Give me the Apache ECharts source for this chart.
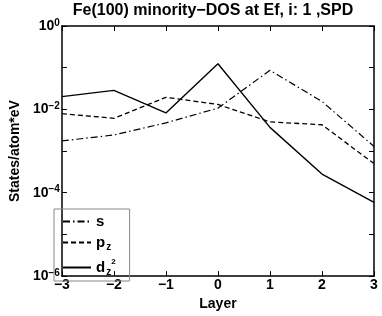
<!DOCTYPE html>
<html><head><meta charset="utf-8">
<script src="https://cdn.jsdelivr.net/npm/echarts@6/dist/echarts.min.js"></script>
<style>html,body{margin:0;padding:0;background:#fff}#c{width:382px;height:316px}</style>
</head><body><div id="c"></div>
<script>
const layers = [-3, -2, -1, 0, 1, 2, 3];
const sVals  = [0.00175, 0.00243, 0.00475, 0.0107, 0.0865, 0.0155, 0.00129];
const pzVals = [0.0079, 0.0061, 0.0195, 0.0131, 0.0050, 0.00427, 0.00050];
const dz2Vals = [0.0202, 0.0286, 0.0082, 0.124, 0.0037, 0.000281, 0.000059];
const seriesNames = ['s', 'p_z', 'd_z2'];
const titleText = 'Fe(100) minority\u2212DOS at Ef, i: 1 ,SPD';
const FONT = '"Liberation Sans", Arial, Helvetica, sans-serif';

const chart = echarts.init(document.getElementById('c'));
const pair = (vals) => layers.map((x, i) => [x, vals[i]]);
const minus = (v) => String(v).replace('-', '\u2212');
const axLine = {show: true, onZero: false, lineStyle: {color: '#000', width: 1.5}};
const tick = {show: true, inside: true, length: 5, lineStyle: {color: '#000', width: 1}};

chart.setOption({
  animation: false,
  title: {text: titleText, left: 208, top: -2, textAlign: 'center',
    textStyle: {fontFamily: FONT, fontSize: 16, fontWeight: 'bold', color: '#000'}},
  grid: {left: 51, right: 8, top: 26, bottom: 36, containLabel: false},
  legend: {
    orient: 'vertical', left: 54, top: 209, itemWidth: 28, itemHeight: 12, itemGap: 6,
    padding: [5, 14, 4, 8],
    borderColor: '#888', borderWidth: 1, backgroundColor: 'rgba(255,255,255,0)',
    data: seriesNames,
    itemStyle: {color: 'rgba(0,0,0,0)', borderWidth: 0},
    formatter: (n) => n === 's' ? '{m|s}' : (n === 'p_z' ? '{m|p}{sub|z}' : '{m|d}{sub|z}{sup|2}'),
    textStyle: {
      fontFamily: FONT, fontWeight: 'bold', color: '#000',
      rich: {
        m: {fontFamily: FONT, fontSize: 15, fontWeight: 'bold', color: '#000'},
        sub: {fontFamily: FONT, fontSize: 10, fontWeight: 'bold', color: '#000', verticalAlign: 'bottom', padding: [9, 0, 0, 1]},
        sup: {fontFamily: FONT, fontSize: 8, fontWeight: 'bold', color: '#000', verticalAlign: 'top', padding: [0, 0, 6, 0]}
      }
    }
  },
  xAxis: [{
    type: 'value', min: -3, max: 3, interval: 1,
    name: 'Layer', nameLocation: 'middle', nameGap: 19,
    nameTextStyle: {fontFamily: FONT, fontSize: 14, fontWeight: 'bold', color: '#000'},
    axisLine: axLine, axisTick: tick, splitLine: {show: false},
    axisLabel: {fontFamily: FONT, fontSize: 14, fontWeight: 'bold', color: '#000', margin: 2, formatter: minus, hideOverlap: false}
  }, {
    type: 'value', min: -3, max: 3, interval: 1, position: 'top',
    axisLine: axLine, axisTick: tick, axisLabel: {show: false}, splitLine: {show: false}
  }],
  yAxis: [{
    type: 'log', logBase: 10, min: 1e-6, max: 1, interval: 1,
    name: 'States/atom*eV', nameLocation: 'middle', nameGap: 38,
    nameTextStyle: {fontFamily: FONT, fontSize: 14, fontWeight: 'bold', color: '#000'},
    axisLine: axLine, axisTick: tick, splitLine: {show: false}, minorTick: {show: false},
    axisLabel: {
      margin: 2, showMinLabel: true, showMaxLabel: true, hideOverlap: false,
      formatter: (v) => {
        const e = Math.round(Math.log10(v));
        if (e % 2 !== 0) return '';
        return '{b|10}{e|' + minus(e) + '}';
      },
      rich: {
        b: {fontFamily: FONT, fontSize: 14, fontWeight: 'bold', color: '#000'},
        e: {fontFamily: FONT, fontSize: 10, fontWeight: 'bold', color: '#000', verticalAlign: 'top', padding: [0, 0, 6, 0]}
      }
    }
  }, {
    type: 'log', logBase: 10, min: 1e-6, max: 1, interval: 1, position: 'right',
    axisLine: axLine, axisTick: tick, axisLabel: {show: false}, splitLine: {show: false}
  }],
  series: [
    {name: 's', type: 'line', data: pair(sVals), symbol: 'none', color: '#000',
     lineStyle: {color: '#000', width: 1.2, type: [7, 3, 1.5, 3]}},
    {name: 'p_z', type: 'line', data: pair(pzVals), symbol: 'none', color: '#000',
     lineStyle: {color: '#000', width: 1.3, type: [5, 3]}},
    {name: 'd_z2', type: 'line', data: pair(dz2Vals), symbol: 'none', color: '#000',
     lineStyle: {color: '#000', width: 1.4, type: 'solid'}}
  ]
});
</script></body></html>
